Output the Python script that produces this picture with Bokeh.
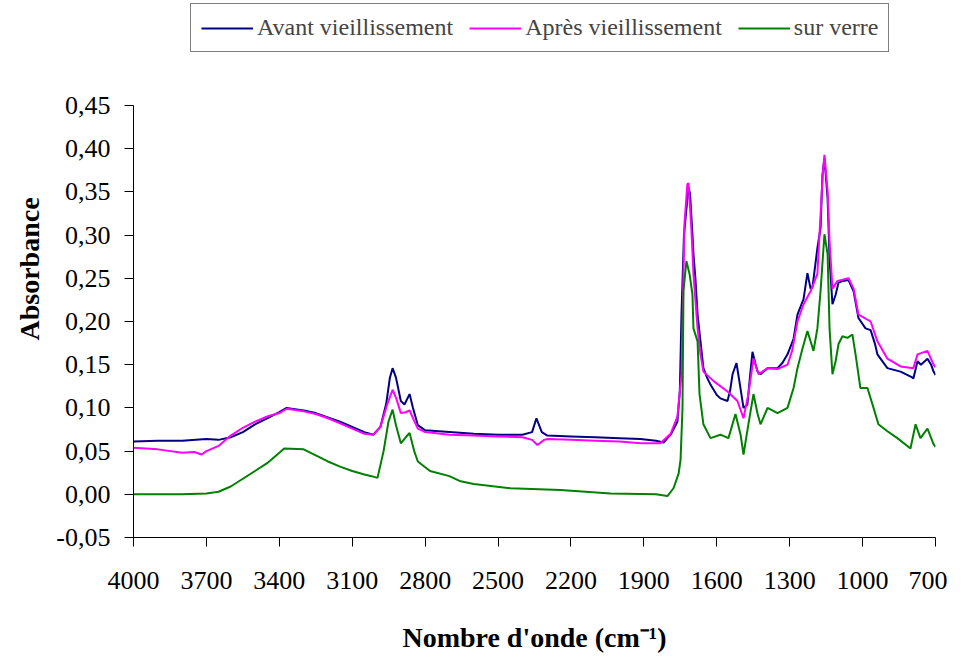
from bokeh.plotting import figure
from bokeh.models import Range1d, FixedTicker, Legend, LegendItem
from bokeh.embed import file_html
from bokeh.resources import INLINE

# ---- data ----
wn_avant = [4000, 3900, 3800, 3700, 3650, 3600, 3550, 3500, 3450, 3400, 3370, 3300, 3250, 3200, 3150,
            3100, 3050, 3013, 2984, 2960, 2945, 2934, 2920, 2900, 2885, 2864, 2850, 2830, 2800, 2700,
            2600, 2500, 2400, 2360, 2342, 2320, 2297, 2200, 2100, 2000, 1914, 1850, 1819, 1790, 1762,
            1752, 1745, 1735, 1725, 1716, 1710, 1700, 1696, 1688, 1679, 1667, 1655, 1640, 1626, 1600,
            1585, 1556, 1545, 1535, 1519, 1507, 1490, 1474, 1462, 1453, 1440, 1432, 1420, 1391, 1350,
            1330, 1309, 1284, 1268, 1243, 1227, 1214, 1206, 1186, 1173, 1165, 1157, 1144, 1136, 1124,
            1111, 1099, 1080, 1058, 1037, 1017, 988, 967, 950, 939, 898, 844, 800, 791, 774, 760, 733,
            718, 708, 700]
abs_avant = [0.061, 0.062, 0.062, 0.064, 0.063, 0.066, 0.072, 0.081, 0.088, 0.095, 0.100, 0.097, 0.094, 0.089, 0.084,
             0.078, 0.072, 0.069, 0.078, 0.105, 0.135, 0.146, 0.135, 0.108, 0.104, 0.116, 0.100, 0.080, 0.074, 0.072,
             0.070, 0.069, 0.069, 0.072, 0.088, 0.072, 0.068, 0.067, 0.066, 0.065, 0.064, 0.062, 0.060, 0.069, 0.084,
             0.120, 0.210, 0.300, 0.330, 0.355, 0.348, 0.300, 0.278, 0.250, 0.208, 0.177, 0.146, 0.135, 0.127, 0.115,
             0.111, 0.108, 0.120, 0.139, 0.152, 0.131, 0.100, 0.104, 0.140, 0.165, 0.150, 0.142, 0.139, 0.146, 0.146,
             0.152, 0.162, 0.180, 0.208, 0.226, 0.256, 0.238, 0.240, 0.285, 0.308, 0.370, 0.389, 0.343, 0.273, 0.220,
             0.231, 0.245, 0.247, 0.248, 0.235, 0.204, 0.192, 0.190, 0.175, 0.162, 0.146, 0.142, 0.136, 0.134, 0.154, 0.150, 0.157,
             0.150, 0.142, 0.138]

wn_apres = [4000, 3900, 3800, 3750, 3720, 3700, 3650, 3600, 3550, 3500, 3450, 3400, 3370, 3300, 3250,
            3200, 3150, 3100, 3050, 3013, 2984, 2955, 2934, 2920, 2900, 2880, 2864, 2845, 2830, 2800,
            2700, 2600, 2500, 2400, 2360, 2338, 2310, 2297, 2200, 2100, 2000, 1914, 1832, 1790, 1762,
            1745, 1733, 1721, 1716, 1704, 1696, 1679, 1667, 1655, 1613, 1556, 1515, 1490, 1470, 1449,
            1428, 1391, 1350, 1309, 1290, 1268, 1243, 1214, 1186, 1165, 1157, 1144, 1136, 1124, 1103,
            1058, 1037, 1017, 967, 939, 898, 844, 791, 774, 733, 708, 700]
abs_apres = [0.054, 0.052, 0.048, 0.049, 0.046, 0.050, 0.056, 0.068, 0.077, 0.084, 0.090, 0.094, 0.099, 0.096, 0.093,
             0.088, 0.082, 0.076, 0.070, 0.069, 0.078, 0.105, 0.121, 0.112, 0.094, 0.095, 0.097, 0.085, 0.076, 0.072,
             0.069, 0.068, 0.067, 0.066, 0.063, 0.057, 0.063, 0.064, 0.063, 0.062, 0.061, 0.059, 0.059, 0.070, 0.090,
             0.139, 0.313, 0.359, 0.360, 0.304, 0.255, 0.192, 0.162, 0.142, 0.131, 0.119, 0.108, 0.088, 0.116, 0.157,
             0.139, 0.146, 0.145, 0.150, 0.166, 0.200, 0.220, 0.235, 0.255, 0.366, 0.393, 0.351, 0.293, 0.238, 0.247,
             0.250, 0.238, 0.208, 0.200, 0.177, 0.157, 0.148, 0.146, 0.162, 0.166, 0.150, 0.147]

wn_verre = [4000, 3900, 3800, 3700, 3650, 3600, 3550, 3500, 3450, 3400, 3380, 3300, 3250, 3200, 3150,
            3100, 3050, 3020, 2996, 2971, 2951, 2934, 2920, 2900, 2880, 2864, 2845, 2830, 2780, 2700,
            2654, 2600, 2449, 2243, 2037, 1850, 1803, 1778, 1757, 1749, 1741, 1737, 1725, 1712, 1700,
            1696, 1679, 1671, 1655, 1626, 1585, 1552, 1523, 1502, 1490, 1470, 1449, 1432, 1420, 1391,
            1350, 1309, 1284, 1268, 1247, 1227, 1202, 1186, 1173, 1157, 1144, 1136, 1124, 1111, 1099,
            1083, 1062, 1042, 1029, 1009, 980, 955, 935, 898, 857, 803, 782, 762, 733, 708, 700]
abs_verre = [0.000, 0.000, 0.000, 0.001, 0.003, 0.009, 0.018, 0.027, 0.036, 0.048, 0.053, 0.052, 0.045, 0.038, 0.032,
             0.027, 0.023, 0.021, 0.019, 0.050, 0.084, 0.098, 0.080, 0.059, 0.066, 0.071, 0.050, 0.038, 0.027, 0.021,
             0.015, 0.012, 0.007, 0.005, 0.001, 0.000, -0.002, 0.007, 0.024, 0.040, 0.100, 0.235, 0.270, 0.255, 0.231,
             0.192, 0.177, 0.116, 0.081, 0.065, 0.069, 0.065, 0.093, 0.069, 0.046, 0.081, 0.116, 0.093, 0.081, 0.100,
             0.094, 0.100, 0.123, 0.146, 0.169, 0.189, 0.166, 0.192, 0.235, 0.301, 0.278, 0.192, 0.139, 0.154, 0.174,
             0.183, 0.181, 0.185, 0.162, 0.123, 0.123, 0.100, 0.081, 0.073, 0.065, 0.053, 0.081, 0.065, 0.076, 0.058, 0.055]

series_names = ["Avant vieillissement", "Après vieillissement", "sur verre"]
x_ticks = [4000, 3700, 3400, 3100, 2800, 2500, 2200, 1900, 1600, 1300, 1000, 700]
y_ticks = [-0.05, 0.0, 0.05, 0.10, 0.15, 0.20, 0.25, 0.30, 0.35, 0.40, 0.45]
y_tick_labels = ["-0,05", "0,00", "0,05", "0,10", "0,15", "0,20", "0,25", "0,30", "0,35", "0,40", "0,45"]

FONT = "Liberation Serif"

# frame reaches the top of the canvas so the legend (drawn above the 0,45 tick) is not clipped;
# the y axis line itself is bounded to -0,05 .. 0,45
Y_TOP = 0.45 + 105.0 / 864.0

p = figure(width=947, height=661, output_backend="svg", toolbar_location=None,
           x_range=Range1d(4000, 700), y_range=Range1d(-0.05, Y_TOP),
           min_border_left=133, min_border_right=12, min_border_top=0, min_border_bottom=124)
p.outline_line_color = None
p.xgrid.visible = False
p.ygrid.visible = False
p.background_fill_color = "white"
p.border_fill_color = "white"

r1 = p.line(wn_avant, abs_avant, line_color="#000080", line_width=2)
r2 = p.line(wn_apres, abs_apres, line_color="#FF00FF", line_width=2)
r3 = p.line(wn_verre, abs_verre, line_color="#008000", line_width=2)

for ax in (p.xaxis[0], p.yaxis[0]):
    ax.axis_line_color = "black"
    ax.major_tick_line_color = "black"
    ax.major_tick_out = 9
    ax.major_tick_in = 0
    ax.minor_tick_line_color = None
    ax.major_label_text_font = FONT
    ax.major_label_text_color = "black"
    ax.axis_label_text_font = FONT
    ax.axis_label_text_font_style = "bold"
    ax.axis_label_text_color = "black"

p.xaxis.ticker = FixedTicker(ticks=x_ticks)
p.xaxis.major_label_overrides = {t: str(t) for t in x_ticks}
p.xaxis.major_label_text_font_size = "26px"
p.xaxis.major_label_standoff = 25
p.xaxis.axis_label = "Nombre d'onde (cm\u207b\u00b9)"
p.xaxis.axis_label_text_font_size = "28px"
p.xaxis.axis_label_standoff = 30

p.yaxis.ticker = FixedTicker(ticks=y_ticks)
p.yaxis.bounds = (-0.05, 0.45)
p.yaxis.major_label_overrides = {t: l for t, l in zip(y_ticks, y_tick_labels)}
p.yaxis.major_label_text_font_size = "26px"
p.yaxis.major_label_standoff = 14
p.yaxis.axis_label = "Absorbance"
p.yaxis.axis_label_text_font_size = "28px"
p.yaxis.axis_label_standoff = 8

legend = Legend(items=[LegendItem(label=series_names[0], renderers=[r1]),
                       LegendItem(label=series_names[1], renderers=[r2]),
                       LegendItem(label=series_names[2], renderers=[r3])],
                orientation="horizontal", location=(57, 485), margin=0,
                padding=10, spacing=16, glyph_width=52, label_standoff=4,
                label_text_font=FONT, label_text_font_size="24px",
                border_line_color="black", border_line_width=1,
                background_fill_color="white", background_fill_alpha=1.0)
p.add_layout(legend, "center")

open("out.html", "w").write(file_html(p, INLINE))
